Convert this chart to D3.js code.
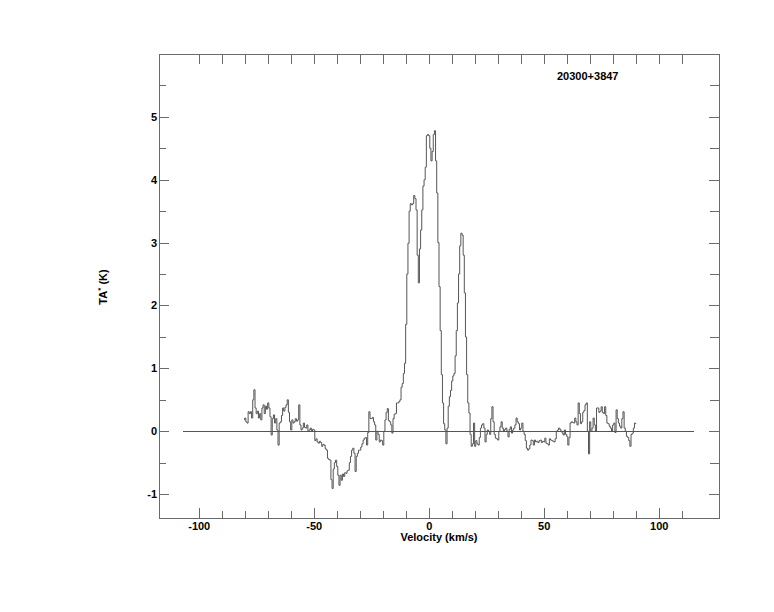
<!DOCTYPE html>
<html><head><meta charset="utf-8">
<script src="https://cdn.jsdelivr.net/npm/d3@7"></script>
<style>body{margin:0;background:#fff}svg text{font-family:"Liberation Sans",Arial,sans-serif;font-weight:bold;font-size:11px;fill:#000}</style>
</head><body>
<script>
// Spectrum: channels start at vStart km/s, spaced vStep km/s
const vStart = -80.5, vStep = 0.5;
const ta = [
0.18,0.21,0.15,0.13,0.31,0.28,0.31,0.21,0.5,0.66,0.37,0.28,0.32,0.21,0.28,0.18,0.37,0.42,0.28,0.4,
0.35,0.45,0.37,0.23,-0.06,0.2,0.26,0.13,0.2,0.02,-0.22,0.13,0.15,0.25,0.37,0.32,0.38,0.42,0.5,0.3,
0.15,0.02,0.18,0.13,0.15,0.2,0.16,0.18,0.42,0.1,0.02,0.05,0.13,0.06,0.05,0.1,0.0,0.02,0.05,0.0,
0.03,0.02,-0.15,-0.12,-0.17,-0.19,-0.16,-0.18,-0.24,-0.21,-0.22,-0.28,-0.3,-0.43,-0.45,-0.46,-0.77,-0.91,-0.6,-0.5,
-0.46,-0.56,-0.7,-0.86,-0.7,-0.78,-0.68,-0.72,-0.66,-0.67,-0.63,-0.62,-0.5,-0.4,-0.3,-0.27,-0.35,-0.64,-0.4,-0.35,
-0.3,-0.3,-0.25,-0.2,-0.14,-0.11,-0.1,-0.22,-0.02,0.31,0.2,0.2,0.22,0.15,0.1,-0.14,0.0,-0.05,-0.17,-0.14,
-0.15,-0.22,0.0,0.18,0.3,0.36,0.17,0.15,0.1,-0.03,0.2,0.27,0.28,0.45,0.45,0.47,0.5,0.7,0.76,0.92,
1.08,1.7,2.5,2.99,3.5,3.62,3.6,3.62,3.75,3.7,3.52,2.8,2.36,2.9,3.2,3.52,3.9,4.0,4.2,4.7,
4.72,4.7,4.5,4.3,4.45,4.72,4.78,4.3,3.79,3.0,2.3,1.6,0.9,0.45,0.12,0.02,-0.2,0.05,0.4,0.55,
0.65,0.8,0.88,0.92,1.2,1.6,2.04,2.5,2.95,3.15,3.12,2.8,2.2,1.5,0.9,0.45,0.29,-0.05,-0.24,-0.2,
0.13,-0.24,-0.15,-0.2,-0.22,-0.1,0.05,0.1,0.12,0.05,-0.17,-0.05,0.02,0.0,-0.05,0.2,0.39,0.15,-0.05,-0.11,
-0.12,-0.14,0.0,0.07,0.15,0.05,0.0,0.03,0.05,0.0,-0.09,0.03,0.07,-0.03,0.02,0.05,0.1,0.21,0.15,0.12,
0.02,0.05,0.13,0.0,-0.05,-0.15,-0.27,-0.3,-0.28,-0.22,-0.14,-0.15,-0.22,-0.14,-0.17,-0.16,-0.18,-0.15,-0.14,-0.18,
-0.16,-0.17,-0.11,-0.19,-0.2,-0.22,-0.12,-0.14,-0.15,-0.16,-0.17,-0.12,0.0,0.02,0.05,0.03,0.0,-0.03,-0.06,0.02,
-0.05,-0.08,-0.22,-0.1,0.13,0.15,0.14,0.13,0.21,0.15,0.1,0.45,0.28,0.12,0.15,0.3,0.33,0.42,0.45,0.0,
-0.36,0.15,0.0,0.05,0.21,0.1,0.0,0.37,0.37,0.3,0.32,0.39,0.3,0.28,0.39,0.25,0.13,0.12,0.08,0.05,
0.0,0.1,0.13,-0.02,0.34,0.2,0.13,0.08,0.05,0.2,0.31,0.05,0.0,-0.08,-0.1,-0.15,-0.24,-0.05,-0.03,0.05,
0.13,0.12
];
const baseline = [-107, 115];
const xDomain = [-117.5, 126];
const yDomain = [-1.38, 6.0];
const xMajor = [-100, -50, 0, 50, 100];
const xMinor = [-100,-90,-80,-70,-60,-50,-40,-30,-20,-10,0,10,20,30,40,50,60,70,80,90,100,110];
const yMajor = [-1, 0, 1, 2, 3, 4, 5];
const yMinor = [-0.5, 0.5, 1.5, 2.5, 3.5, 4.5, 5.5];
const title = "20300+3847";
const xTitle = "Velocity (km/s)";

const W = 774, H = 612;
const L = 159, R = 719, T = 54, B = 518;
const frameColor = "#6a6a6a";
const svg = d3.select("body").append("svg").attr("width", W).attr("height", H);
const x = d3.scaleLinear().domain(xDomain).range([L, R]);
const y = d3.scaleLinear().domain(yDomain).range([B, T]);
const px = v => Math.round(v) + 0.5;

const g = svg.append("g").attr("stroke", frameColor).attr("stroke-width", 1).attr("shape-rendering", "crispEdges");
// x ticks bottom & top
xMinor.forEach(v => {
  const isMaj = xMajor.includes(v);
  g.append("line").attr("x1", px(x(v))).attr("x2", px(x(v))).attr("y1", B).attr("y2", B - (isMaj ? 10 : 7));
  g.append("line").attr("x1", px(x(v))).attr("x2", px(x(v))).attr("y1", T).attr("y2", T + 10);
});
yMajor.concat(yMinor).forEach(v => {
  const isMaj = yMajor.includes(v);
  g.append("line").attr("y1", px(y(v))).attr("y2", px(y(v))).attr("x1", L).attr("x2", L + (isMaj ? 10 : 7));
  g.append("line").attr("y1", px(y(v))).attr("y2", px(y(v))).attr("x1", R).attr("x2", R - (isMaj ? 10 : 9));
});
g.append("rect").attr("x", L + 0.5).attr("y", T + 0.5).attr("width", R - L).attr("height", B - T).attr("fill", "none");

// tick labels
svg.append("g").selectAll("text").data(xMajor).join("text")
  .attr("x", d => x(d)).attr("y", B + 12).attr("text-anchor", "middle").text(d => d);
svg.append("g").selectAll("text").data(yMajor).join("text")
  .attr("x", L - 2).attr("y", d => y(d) + 4).attr("text-anchor", "end").text(d => d);

// baseline
svg.append("line").attr("x1", x(baseline[0])).attr("x2", x(baseline[1]))
  .attr("y1", px(y(0))).attr("y2", px(y(0))).attr("stroke", "#555").attr("stroke-width", 1)
  .attr("shape-rendering", "crispEdges");

// spectrum
const pts = ta.map((t, i) => [vStart + i * vStep, t]);
const line = d3.line().x(d => x(d[0])).y(d => y(d[1])).curve(d3.curveStep);
svg.append("path").datum(pts).attr("d", line).attr("fill", "none")
  .attr("stroke", "#555").attr("stroke-width", 1);

// texts
svg.append("text").attr("x", 557).attr("y", 80).text(title);
svg.append("text").attr("x", 439).attr("y", 541).attr("text-anchor", "middle").text(xTitle);
const yl = svg.append("text").attr("transform", "translate(107,287) rotate(-90)").attr("text-anchor", "middle");
yl.append("tspan").text("TA");
yl.append("tspan").attr("dy", -4).attr("font-size", "8px").text("*");
yl.append("tspan").attr("dy", 4).text(" (K)");
</script>
</body></html>
